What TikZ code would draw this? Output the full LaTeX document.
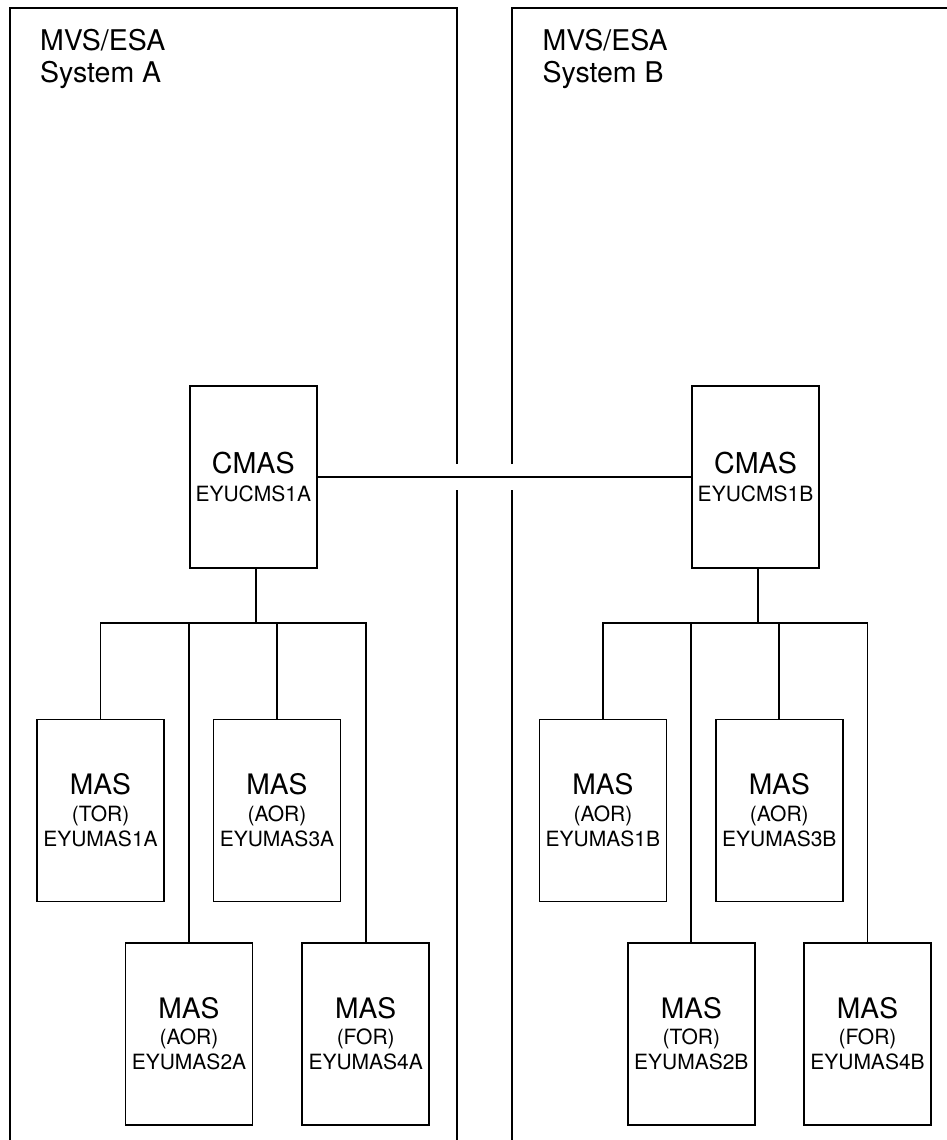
\documentclass[tikz,border=0pt]{standalone}
\usepackage{fontspec}
\setmainfont{TeX Gyre Heros}
\usetikzlibrary{calc}
\begin{document}
\begin{tikzpicture}[x=1pt,y=-1pt,
  line width=1.7pt,
  frame/.style={line width=1.8pt},
  box/.style={draw, line width=1.6pt, rectangle, inner sep=0pt, minimum width=127pt, minimum height=182pt,
    align=center, font=\fontsize{21}{25}\selectfont},
  title/.style={anchor=north west, inner sep=0pt, align=left, font=\fontsize{28.5}{32.6}\selectfont},
  wire/.style={line width=1.7pt}]
\useasboundingbox (0,0) rectangle (946,1140);
% frames
\draw[frame] (10,1141) -- (10,8) -- (456.7,8) -- (456.7,464);
\draw[frame] (456.7,490) -- (456.7,1141);
\draw[frame] (512,464) -- (512,8) -- (947,8);
\draw[frame] (512,490) -- (512,1141);
% titles
\node[title] (tA) at (39.3,28) {MVS/ESA\\System A};
\node[title] (tB) at (541.7,28) {MVS/ESA\\System B};
% CMAS boxes
\node[box] (cA) at (253.3,476.8) {{\fontsize{28.7}{28}\selectfont CMAS}\\[3pt]EYUCMS1A};
\node[box] (cB) at (755.5,476.8) {{\fontsize{28.7}{28}\selectfont CMAS}\\[3pt]EYUCMS1B};
% MAS boxes A
\node[box] (a1) at (100.5,810.3) {{\fontsize{28.2}{28}\selectfont MAS}\\[1.5pt](TOR)\\EYUMAS1A};
\node[box] (a3) at (277,810.3) {{\fontsize{28.2}{28}\selectfont MAS}\\[1.5pt](AOR)\\EYUMAS3A};
\node[box] (a2) at (189,1033.7) {{\fontsize{28.2}{28}\selectfont MAS}\\[1.5pt](AOR)\\EYUMAS2A};
\node[box] (a4) at (365.7,1033.7) {{\fontsize{28.2}{28}\selectfont MAS}\\[1.5pt](FOR)\\EYUMAS4A};
% MAS boxes B
\node[box] (b1) at (602.9,810.3) {{\fontsize{28.2}{28}\selectfont MAS}\\[1.5pt](AOR)\\EYUMAS1B};
\node[box] (b3) at (779.3,810.3) {{\fontsize{28.2}{28}\selectfont MAS}\\[1.5pt](AOR)\\EYUMAS3B};
\node[box] (b2) at (691.3,1033.7) {{\fontsize{28.2}{28}\selectfont MAS}\\[1.5pt](TOR)\\EYUMAS2B};
\node[box] (b4) at (867.5,1033.7) {{\fontsize{28.2}{28}\selectfont MAS}\\[1.5pt](FOR)\\EYUMAS4B};
% bus levels
\coordinate (busA) at (256,623.3);
\coordinate (busB) at (758,623.3);
% connectors
\draw[wire] (cA.east) -- (cB.west);
\draw[wire] (cA.south -| busA) -- (busA);
\draw[wire] (cB.south -| busB) -- (busB);
\foreach \m in {a1,a2,a3,a4} {\draw[wire] (busA) -| (\m.north);}
\foreach \m in {b1,b2,b3,b4} {\draw[wire] (busB) -| (\m.north);}
\end{tikzpicture}
\end{document}
